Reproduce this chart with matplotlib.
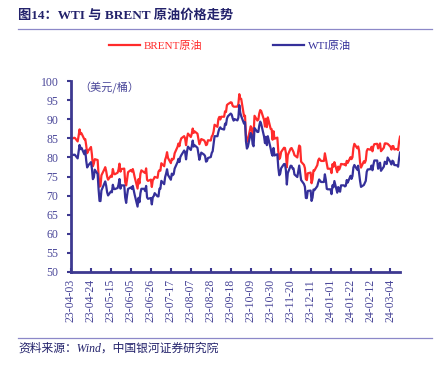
import pandas as pd
import matplotlib.pyplot as plt
import matplotlib.dates as mdates

# weekday series 2023-04-03 .. 2024-03-14, holidays carry previous close
dates = pd.bdate_range('2023-04-03', '2024-03-14')

brent = [
    84.93, 84.94, 84.99, 85.12, 85.12,
    84.18, 85.61, 87.33, 86.09, 86.31,
    84.76, 84.77, 83.12, 81.10, 81.66,
    82.73, 80.77, 77.69, 78.37, 79.54,
    79.31, 75.32, 72.33, 72.50, 75.30,
    76.85, 77.44, 76.41, 74.98, 74.17,
    75.23, 74.91, 76.96, 75.86, 75.58,
    75.99, 76.84, 78.36, 76.26, 76.95,
    77.07, 73.54, 72.66, 74.28, 76.13,
    76.71, 76.29, 76.95, 75.96, 74.79,
    71.84, 74.29, 73.20, 75.67, 76.61,
    76.09, 75.90, 77.12, 74.14, 73.85,
    74.18, 72.26, 74.03, 74.34, 74.90,
    74.65, 76.25, 76.65, 76.52, 78.47,
    77.69, 79.40, 80.11, 81.36, 79.87,
    78.50, 79.63, 79.46, 79.64, 81.07,
    82.74, 83.64, 82.92, 84.24, 84.99,
    85.56, 84.91, 83.20, 85.14, 86.24,
    85.34, 86.17, 87.55, 86.40, 86.81,
    86.21, 84.89, 83.45, 84.12, 84.80,
    84.46, 84.03, 83.21, 83.36, 84.48,
    84.42, 85.49, 85.86, 86.83, 88.55,
    88.00, 90.04, 90.60, 89.92, 90.65,
    90.64, 92.06, 91.88, 93.70, 93.93,
    94.43, 94.34, 93.53, 93.30, 93.27,
    93.29, 93.96, 96.55, 95.38, 95.31,
    90.71, 90.92, 85.81, 84.07, 84.58,
    88.15, 87.65, 85.82, 86.00, 90.89,
    89.65, 89.90, 91.50, 92.38, 92.16,
    89.83, 88.07, 90.13, 87.93, 90.48,
    87.45, 87.41, 84.63, 86.85, 84.89,
    85.18, 81.61, 79.54, 80.01, 81.43,
    82.52, 82.47, 81.18, 77.42, 80.61,
    82.32, 82.45, 81.96, 81.42, 80.58,
    79.98, 81.68, 83.10, 82.83, 78.88,
    78.03, 77.20, 74.30, 74.05, 75.84,
    76.03, 73.24, 74.26, 76.61, 76.55,
    77.95, 79.23, 79.70, 79.39, 79.07,
    79.07, 81.07, 79.65, 78.39, 77.04,
    77.04, 75.89, 78.25, 77.59, 78.76,
    76.12, 77.59, 76.80, 77.41, 78.29,
    78.15, 78.29, 77.88, 79.10, 78.56,
    80.06, 79.55, 80.04, 82.43, 83.55,
    82.40, 82.87, 81.71, 78.70, 77.33,
    78.99, 78.59, 79.21, 81.63, 82.19,
    82.00, 82.77, 81.60, 82.86, 83.47,
    83.56, 82.34, 83.03, 83.67, 81.62,
    82.53, 83.65, 83.68, 83.62, 83.55,
    82.80, 82.04, 82.96, 82.96, 82.08,
    82.21, 81.92, 84.03, 85.42,
]

wti = [
    80.42, 80.71, 80.61, 80.70, 80.70,
    79.74, 81.53, 83.26, 82.16, 82.52,
    80.83, 81.86, 79.16, 77.37, 77.87,
    78.76, 77.07, 74.30, 74.76, 76.78,
    75.66, 71.66, 68.60, 68.56, 71.34,
    73.16, 73.71, 72.56, 70.87, 70.04,
    71.11, 70.86, 72.83, 71.86, 71.69,
    71.99, 72.91, 74.34, 71.83, 72.67,
    72.67, 69.46, 68.09, 70.10, 71.74,
    72.15, 71.74, 72.53, 71.29, 70.17,
    67.12, 69.42, 68.27, 70.62, 71.78,
    71.78, 71.19, 72.53, 69.51, 69.16,
    69.37, 67.70, 69.56, 69.86, 70.64,
    69.79, 69.79, 71.79, 71.80, 73.86,
    72.99, 74.83, 75.75, 76.89, 75.42,
    74.15, 75.75, 75.35, 75.63, 77.07,
    78.74, 79.63, 78.78, 80.09, 80.58,
    81.80, 81.37, 79.49, 81.55, 82.82,
    81.94, 82.92, 84.40, 82.82, 83.19,
    82.51, 80.99, 79.38, 80.39, 81.25,
    80.72, 80.35, 78.89, 79.05, 79.83,
    80.10, 81.16, 81.63, 83.63, 85.55,
    85.55, 86.69, 87.54, 87.87, 87.51,
    87.29, 88.84, 88.52, 90.16, 90.77,
    91.48, 91.20, 90.28, 89.63, 90.03,
    89.68, 90.39, 93.68, 91.71, 90.79,
    88.82, 89.23, 84.22, 82.31, 82.79,
    86.38, 85.97, 83.49, 82.91, 87.69,
    86.66, 86.66, 88.32, 89.37, 88.75,
    85.49, 83.74, 85.39, 83.21, 85.54,
    82.31, 81.02, 80.44, 82.46, 80.51,
    80.82, 77.37, 75.33, 75.74, 77.17,
    78.26, 78.26, 76.66, 72.90, 75.89,
    77.83, 77.77, 77.10, 77.10, 75.54,
    74.86, 76.41, 77.86, 75.96, 74.07,
    73.04, 72.32, 69.38, 69.34, 71.23,
    71.32, 68.61, 69.47, 71.58, 71.43,
    72.47, 73.44, 74.22, 73.89, 73.56,
    73.56, 75.57, 74.11, 71.77, 71.65,
    71.65, 70.38, 72.70, 72.19, 73.81,
    70.77, 72.24, 71.37, 71.02, 72.68,
    72.68, 72.40, 72.56, 74.08, 73.41,
    75.19, 74.37, 75.09, 77.36, 78.01,
    76.78, 77.82, 75.85, 73.82, 72.28,
    72.78, 73.31, 73.86, 76.22, 76.84,
    76.92, 77.87, 76.64, 78.03, 79.19,
    79.19, 77.04, 77.91, 78.61, 76.49,
    77.58, 78.87, 78.54, 78.26, 79.97,
    78.74, 78.15, 79.13, 78.93, 78.01,
    77.93, 77.56, 79.72, 81.26,
]

tick_dates = pd.date_range('2023-04-03', '2024-03-04', freq='21D')
yticks = list(range(50, 101, 5))

RED = '#ff2b2b'
BLUE = '#35309a'
AXC = '#3d3990'
TXT = '#4a4799'
NAVY = '#23226b'
SERIF = ['Liberation Serif', 'Noto Sans CJK SC']

fig = plt.figure(figsize=(4.4, 3.72), dpi=100)
ax = fig.add_axes([71 / 440, 1 - 272 / 372, 329 / 440, 191 / 372])

l1, = ax.plot(dates, brent, color=RED, lw=1.6)
l2, = ax.plot(dates, wti, color=BLUE, lw=1.6)

ax.set_ylim(50, 100)
ax.set_yticks(yticks)
ax.set_xlim(pd.Timestamp('2023-04-03'), pd.Timestamp('2024-03-14'))
ax.set_xticks(tick_dates)
ax.xaxis.set_major_formatter(mdates.DateFormatter('%y-%m-%d'))

for s in ['top', 'right']:
    ax.spines[s].set_visible(False)
for s in ['left', 'bottom']:
    ax.spines[s].set_color(AXC)
    ax.spines[s].set_linewidth(2)

ax.tick_params(axis='y', direction='out', length=3, width=1.5, color=AXC,
               labelcolor=TXT, labelsize=8.5, pad=6)
ax.tick_params(axis='x', direction='in', length=3, width=1.5, color=AXC,
               labelcolor=TXT, labelsize=8.5, rotation=90, pad=5)
for lab in ax.get_xticklabels() + ax.get_yticklabels():
    lab.set_family(SERIF)

ax.text(0.025, 0.995, '（美元/桶）', transform=ax.transAxes, color=TXT,
        fontsize=8, va='top', family=['Noto Sans CJK SC'])

# two separate legend entries, placed like the original
for line, name, c, x0 in [(l1, 'BRENT原油', RED, 109), (l2, 'WTI原油', BLUE, 273)]:
    leg = fig.legend([line], [name], loc='center left',
                     bbox_to_anchor=(x0 / 440, 1 - 46 / 372), frameon=False,
                     handlelength=2.8, handletextpad=0.35, borderpad=0,
                     borderaxespad=0, prop={'family': SERIF, 'size': 8})
    leg.get_texts()[0].set_color(c)

fig.text(18 / 440, 1 - 16 / 372, '图14：WTI 与 BRENT 原油价格走势', color=NAVY,
         fontsize=9.5, fontweight='bold', va='center', family=SERIF)
fig.add_artist(plt.Line2D([18 / 440, 432 / 440], [1 - 29 / 372] * 2,
                          color='#8c88c8', lw=0.9))
fig.add_artist(plt.Line2D([18 / 440, 432 / 440], [1 - 338 / 372] * 2,
                          color='#8c88c8', lw=0.9))
fig.text(18 / 440, 1 - 349 / 372, '资料来源：Wind，中国银河证券研究院', color=NAVY,
         fontsize=8.5, style='italic', va='center', family=SERIF)

fig.savefig('out.png', dpi=100)
